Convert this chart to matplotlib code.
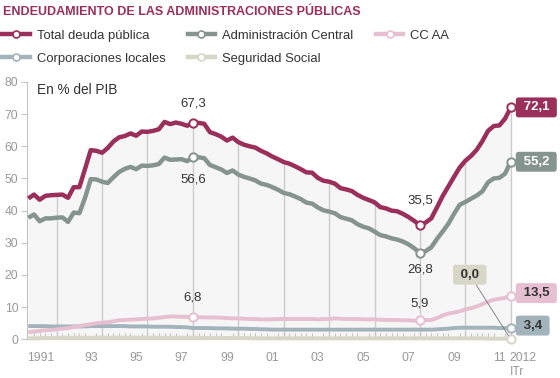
import matplotlib.pyplot as plt
from matplotlib.lines import Line2D
import numpy as np
import pandas as pd

plt.rcParams['font.family'] = ['Liberation Sans', 'DejaVu Sans']

#%% data, % del PIB, quarterly 1990 IV .. 2012 I
quarters = pd.period_range('1990Q4', '2012Q1', freq='Q')

total = [43.8,
         45.0, 43.4, 44.6, 44.8,   # 1991
         44.9, 45.0, 44.0, 47.3,   # 1992
         47.3, 53.0, 58.8, 58.6,   # 1993
         58.0, 59.5, 61.5, 62.8,   # 1994
         63.2, 64.0, 63.3, 64.6,   # 1995
         64.5, 64.8, 65.3, 67.6,   # 1996
         66.9, 67.4, 67.0, 66.4,   # 1997
         67.3, 67.3, 67.0, 64.4,   # 1998
         63.8, 63.0, 61.8, 62.7,   # 1999
         61.3, 60.5, 60.0, 59.6,   # 2000
         58.6, 57.8, 56.8, 56.0,   # 2001
         55.1, 54.6, 53.8, 52.9,   # 2002
         51.9, 51.8, 50.2, 49.3,   # 2003
         49.0, 48.4, 47.0, 46.6,   # 2004
         46.1, 44.9, 44.0, 43.3,   # 2005
         42.6, 41.1, 40.7, 40.0,   # 2006
         39.8, 39.0, 38.0, 36.8,   # 2007
         35.5, 36.3, 37.6, 41.0,   # 2008
         44.5, 47.5, 50.5, 53.4,   # 2009
         55.5, 57.0, 58.9, 61.6,   # 2010
         64.8, 66.3, 66.5, 68.6,   # 2011
         72.1]

central = [37.8,
           38.8, 36.7, 37.6, 37.6,
           37.8, 37.9, 36.5, 39.4,
           39.2, 44.0, 49.8, 49.7,
           49.0, 48.6, 50.4, 52.0,
           53.0, 53.6, 52.9, 54.0,
           53.9, 54.1, 54.5, 56.5,
           55.8, 55.9, 56.0, 55.4,
           56.6, 56.6, 56.3, 54.2,
           53.5, 52.8, 51.7, 52.5,
           51.2, 50.5, 50.0, 49.4,
           48.4, 48.0, 47.3, 46.5,
           45.5, 45.1, 44.4, 43.6,
           42.5, 42.2, 41.0, 40.1,
           39.7, 39.2, 38.0, 37.5,
           37.0, 35.8, 35.0, 34.5,
           33.5, 32.4, 32.0, 31.4,
           31.0, 30.4, 29.5, 28.3,
           26.8, 27.4, 28.6, 31.2,
           33.5, 35.9, 39.0, 41.8,
           42.7, 43.7, 44.7, 46.0,
           48.8, 50.0, 50.2, 51.5,
           55.2]

ccaa = [2.2,
        2.4, 2.6, 2.8, 2.9,
        3.1, 3.3, 3.5, 3.8,
        4.1, 4.4, 4.7, 5.0,
        5.2, 5.3, 5.6, 5.9,
        6.0, 6.1, 6.2, 6.3,
        6.4, 6.5, 6.7, 6.9,
        7.1, 7.1, 7.0, 7.0,
        6.8, 6.9, 6.8, 6.8,
        6.8, 6.7, 6.6, 6.5,
        6.5, 6.4, 6.3, 6.3,
        6.2, 6.2, 6.2, 6.3,
        6.3, 6.3, 6.3, 6.3,
        6.3, 6.3, 6.2, 6.3,
        6.3, 6.5, 6.4, 6.3,
        6.3, 6.3, 6.2, 6.2,
        6.2, 6.1, 6.0, 6.0,
        6.0, 5.9, 5.9, 5.8,
        5.9, 6.0, 6.0, 6.6,
        7.4, 8.0, 8.3, 8.7,
        9.3, 9.7, 10.2, 10.9,
        11.7, 12.3, 12.6, 12.9,
        13.5]

locales = [4.1,
           4.1, 4.1, 4.1, 4.0,
           4.0, 4.0, 4.0, 4.0,
           4.0, 4.0, 4.1, 4.1,
           4.1, 4.1, 4.1, 4.1,
           4.1, 4.0, 4.0, 4.0,
           4.0, 3.9, 3.9, 3.9,
           3.9, 3.8, 3.8, 3.7,
           3.5, 3.5, 3.5, 3.5,
           3.4, 3.4, 3.4, 3.3,
           3.3, 3.3, 3.2, 3.2,
           3.1, 3.1, 3.0, 3.0,
           3.0, 3.0, 3.0, 3.0,
           3.0, 3.0, 3.0, 3.0,
           3.0, 3.0, 3.0, 3.0,
           3.0, 3.0, 3.0, 3.0,
           3.0, 3.0, 3.0, 3.0,
           3.0, 3.0, 3.0, 3.0,
           3.0, 3.0, 3.0, 3.1,
           3.2, 3.3, 3.5, 3.6,
           3.6, 3.6, 3.6, 3.6,
           3.6, 3.6, 3.5, 3.5,
           3.4]

segsocial = [0.3,
             0.3, 0.3, 0.4, 0.4,
             0.4, 0.5, 0.5, 0.5,
             0.5, 0.5, 0.5, 0.5,
             0.5, 0.5, 0.5, 0.5,
             0.5, 0.5, 0.5, 0.5,
             0.5, 0.5, 0.5, 0.5,
             0.5, 0.5, 0.5, 0.5,
             0.5, 0.5, 0.4, 0.4,
             0.4, 0.4, 0.4, 0.4,
             0.4, 0.4, 0.3, 0.3,
             0.3, 0.3, 0.3, 0.3,
             0.3, 0.3, 0.3, 0.3,
             0.3, 0.3, 0.3, 0.3,
             0.3, 0.3, 0.3, 0.3,
             0.3, 0.3, 0.3, 0.3,
             0.3, 0.3, 0.3, 0.3,
             0.3, 0.3, 0.3, 0.3,
             0.3, 0.3, 0.3, 0.3,
             0.3, 0.3, 0.3, 0.3,
             0.3, 0.3, 0.3, 0.3,
             0.2, 0.2, 0.2, 0.2,
             0.0]

names = ['Total deuda pública', 'Administración Central', 'CC AA',
         'Corporaciones locales', 'Seguridad Social']
colors = ['#9b2f5b', '#86948f', '#e6bfd0', '#a2b3bb', '#d6d7c7']
label_colors = ['white', 'white', '#333333', '#333333', '#333333']

xtick_pos = [1991.3, 1993.5, 1995.5, 1997.5, 1999.5, 2001.5, 2003.5,
             2005.5, 2007.5, 2009.5, 2011.5, 2011.95]
xtick_lab = ['1991', '93', '95', '97', '99', '01', '03', '05', '07', '09',
             '11', '2012\nITr']

#%%
x = np.asarray(quarters.year) + (np.asarray(quarters.quarter) - 1) / 4
qs = list(quarters.astype(str))
i98, i08 = qs.index('1998Q1'), qs.index('2008Q1')
series = [np.array(total), np.array(central), np.array(ccaa),
          np.array(locales), np.array(segsocial)]

fig = plt.figure(figsize=(5.6, 3.78), dpi=100)
ax = fig.add_axes([0.0477, 0.1024, 0.9523, 0.6807])
ax.set_xlim(1990.68, 2014.17)
ax.set_ylim(0, 80)

# shaded area + grid under the total curve
ax.fill_between(x, 0, series[0], color='#f6f6f6', lw=0, zorder=0)
even = np.arange(1992, 2013, 2)
ax.vlines(even, 0, np.interp(even, x, series[0]), color='#cdcdcd', lw=1, zorder=1)

widths = [3.2, 3.2, 2.8, 2.8, 2.8]
for k in [4, 3, 2, 1, 0]:
    ax.plot(x, series[k], color=colors[k], lw=widths[k], solid_capstyle='butt',
            zorder=3 + (4 - k), clip_on=False)

# white markers
mk = dict(marker='o', ms=6, mfc='white', mew=1.4, ls='none', clip_on=False, zorder=10)
for k in [0, 1, 2]:
    ax.plot(x[[i98, i08]], series[k][[i98, i08]], mec=colors[k], **mk)
for k in range(5):
    ax.plot(x[-1], series[k][-1], mec=colors[k], **mk)

fmt = lambda v: ('%.1f' % v).replace('.', ',')
notes = [(0, i98, 14), (1, i98, -16), (0, i08, 18), (1, i08, -12),
         (2, i98, 14), (2, i08, 12)]
for k, i, dy in notes:
    ax.annotate(fmt(series[k][i]), (x[i], series[k][i]), xytext=(0, dy),
                textcoords='offset points', ha='center', va='center',
                fontsize=9.5, color='#333333')

# end value boxes
offs = [(6.5, 0), (6.5, 0), (6.5, 2), (6.5, 2)]
bstyle = 'round,pad=0.3,rounding_size=0.2'
for k in range(4):
    ax.annotate(' %s ' % fmt(series[k][-1]), (x[-1], series[k][-1]),
                xytext=offs[k], textcoords='offset points', ha='left', va='center',
                fontsize=9.5, fontweight='bold', color=label_colors[k],
                bbox=dict(boxstyle=bstyle, fc=colors[k], ec='none'), zorder=12)
ax.annotate(' %s ' % fmt(series[4][-1]), (x[-1], series[4][-1]),
            xytext=(-29.5, 46.5), textcoords='offset points', ha='center', va='center',
            fontsize=9.5, fontweight='bold', color='#333333',
            bbox=dict(boxstyle=bstyle, fc=colors[4], ec='none'),
            arrowprops=dict(arrowstyle='-', color='#777777', lw=0.6,
                            shrinkA=0, shrinkB=3), zorder=12)

ax.text(0.0195, 0.97, 'En % del PIB', transform=ax.transAxes, fontsize=9.8,
        color='#333333', va='center')

# axes styling
for s in ['top', 'right']:
    ax.spines[s].set_visible(False)
ax.spines['left'].set_color('#c4c4c4')
ax.spines['bottom'].set_color('#c4c4c4')
ax.spines['bottom'].set_bounds(x[0], x[-1])
ax.set_yticks(range(0, 81, 10))
ax.tick_params(axis='y', length=4, color='#c4c4c4', labelcolor='#999999',
               labelsize=8.7, pad=2)
ax.set_xticks(xtick_pos, xtick_lab)
ax.set_xticks(x[1:], minor=True)
ax.tick_params(axis='x', which='major', length=0, labelcolor='#999999',
               labelsize=8.7, pad=9)
ax.tick_params(axis='x', which='minor', direction='in', length=4,
               color='#c4c4c4', width=0.8)
last = ax.get_xticklabels()[-1]
last.set_horizontalalignment('left')
last.set_multialignment('left')

# title + legend
fig.text(0.006, 1 - 12 / 378, 'ENDEUDAMIENTO DE LAS ADMINISTRACIONES PÚBLICAS',
         fontsize=9, fontweight='bold', color='#9b2f5b', va='center')
handles = [Line2D([], [], color=c, lw=3.2, marker='o', ms=5, mfc='white',
                  mec=c, mew=1.2) for c in colors]
order = [0, 3, 1, 4, 2]
fig.legend([handles[i] for i in order], [names[i] for i in order], ncol=3,
           loc='upper left', bbox_to_anchor=(0.004, 1 - 29.5 / 378), frameon=False,
           fontsize=9.4, handlelength=2.1, handletextpad=0.55, columnspacing=1.7,
           labelspacing=0.85, borderpad=0, borderaxespad=0, labelcolor='#333333')

fig.savefig('out.png', dpi=100)
